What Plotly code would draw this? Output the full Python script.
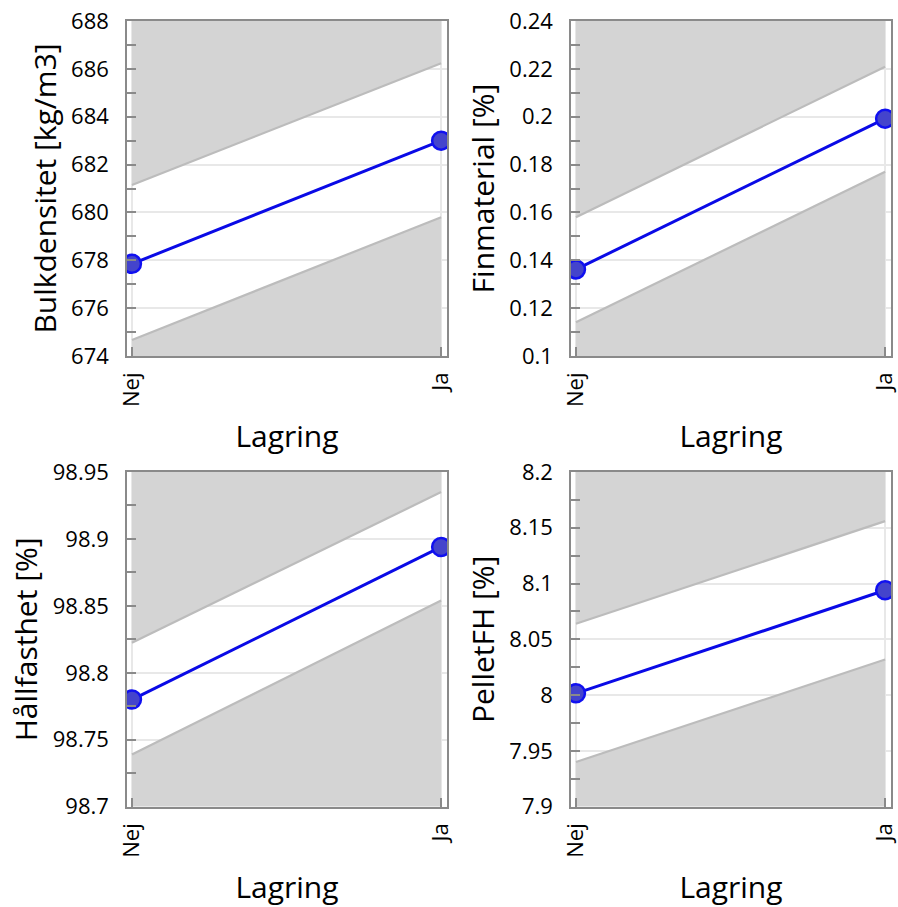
import plotly.graph_objects as go

# ---------------- data ----------------
categories = ["Nej", "Ja"]
x_title = "Lagring"

bulk_pred = [677.85, 683.0]
bulk_upper = [681.15, 686.23]
bulk_lower = [674.67, 679.8]

fin_pred = [0.1362, 0.1992]
fin_upper = [0.158, 0.2209]
fin_lower = [0.1141, 0.177]

hall_pred = [98.780, 98.894]
hall_upper = [98.8225, 98.935]
hall_lower = [98.739, 98.854]

pel_pred = [8.0016, 8.094]
pel_upper = [8.064, 8.156]
pel_lower = [7.940, 8.032]

y_titles = ["Bulkdensitet [kg/m3]", "Finmaterial [%]", "Hållfasthet [%]", "PelletFH [%]"]
y_ranges = [[674, 688], [0.1, 0.24], [98.7, 98.95], [7.9, 8.2]]

bulk_ticks = [674, 676, 678, 680, 682, 684, 686, 688]
bulk_labels = ["674", "676", "678", "680", "682", "684", "686", "688"]
fin_ticks = [0.1, 0.12, 0.14, 0.16, 0.18, 0.2, 0.22, 0.24]
fin_labels = ["0.1", "0.12", "0.14", "0.16", "0.18", "0.2", "0.22", "0.24"]
hall_ticks = [98.7, 98.75, 98.8, 98.85, 98.9, 98.95]
hall_labels = ["98.7", "98.75", "98.8", "98.85", "98.9", "98.95"]
pel_ticks = [7.9, 7.95, 8.0, 8.05, 8.1, 8.15, 8.2]
pel_labels = ["7.9", "7.95", "8", "8.05", "8.1", "8.15", "8.2"]
minor_steps = [1, 0.01, 0.025, 0.025]

# ---------------- styling ----------------
FONT = "Open Sans"
FILL = "#d4d4d4"
EDGE = "#bcbcbc"
FRAME = "#8a8a8a"
GRID = "#e8e8e8"
BLUE = "#0a0ae6"

W, H = 898, 907
x_domains = [[127 / W, 447 / W], [571 / W, 891 / W]]
y_domains = [[1 - 356 / H, 1 - 21 / H], [1 - 806.7 / H, 1 - 472 / H]]

panels = [
    (bulk_pred, bulk_upper, bulk_lower, bulk_ticks, bulk_labels),
    (fin_pred, fin_upper, fin_lower, fin_ticks, fin_labels),
    (hall_pred, hall_upper, hall_lower, hall_ticks, hall_labels),
    (pel_pred, pel_upper, pel_lower, pel_ticks, pel_labels),
]

fig = go.Figure()
layout = {}
for i, (pred, upper, lower, tv, tt) in enumerate(panels):
    n = i + 1
    xa = "x" if n == 1 else f"x{n}"
    ya = "y" if n == 1 else f"y{n}"
    r = y_ranges[i]
    common = dict(xaxis=xa, yaxis=ya, showlegend=False, hoverinfo="skip")
    # upper shaded region
    fig.add_trace(go.Scatter(x=categories, y=[r[1], r[1]], mode="lines",
                             line=dict(width=0, color=FILL), **common))
    fig.add_trace(go.Scatter(x=categories, y=upper, mode="lines", fill="tonexty",
                             fillcolor=FILL, line=dict(width=2.2, color=EDGE), **common))
    # lower shaded region
    fig.add_trace(go.Scatter(x=categories, y=[r[0], r[0]], mode="lines",
                             line=dict(width=0, color=FILL), **common))
    fig.add_trace(go.Scatter(x=categories, y=lower, mode="lines", fill="tonexty",
                             fillcolor=FILL, line=dict(width=2.2, color=EDGE), **common))
    # prediction
    fig.add_trace(go.Scatter(x=categories, y=pred, mode="lines+markers",
                             line=dict(width=3, color=BLUE),
                             marker=dict(size=18, color="#4444cc",
                                         line=dict(width=2.5, color="#1010f0")),
                             xaxis=xa, yaxis=ya, showlegend=False))

    col = i % 2
    row = i // 2
    xkey = "xaxis" if n == 1 else f"xaxis{n}"
    ykey = "yaxis" if n == 1 else f"yaxis{n}"
    layout[xkey] = dict(
        domain=x_domains[col], anchor=ya, type="category",
        range=[-0.016, 1.019], automargin=False,
        showline=True, linecolor=FRAME, linewidth=1.5, mirror=True,
        ticks="inside", ticklen=9, tickcolor=FRAME, tickwidth=1.5,
        tickangle=-90, tickfont=dict(family=FONT, size=22, color="black"),
        showgrid=True, gridcolor=GRID, gridwidth=2, zeroline=False,
        title=dict(text=x_title, font=dict(family=FONT, size=30, color="black"),
                   standoff=20),
        ticklabelstandoff=6,
    )
    layout[ykey] = dict(
        domain=y_domains[row], anchor=xa, range=r, automargin=False,
        tickmode="array", tickvals=tv, ticktext=tt,
        showline=True, linecolor=FRAME, linewidth=1.5, mirror=True,
        ticks="inside", ticklen=9, tickcolor=FRAME, tickwidth=1.5,
        tickfont=dict(family=FONT, size=22, color="black"),
        showgrid=True, gridcolor=GRID, gridwidth=2, zeroline=False,
        minor=dict(tick0=r[0], dtick=minor_steps[i], ticks="inside", ticklen=9,
                   tickcolor=FRAME, tickwidth=1.5, showgrid=False),
        title=dict(text=y_titles[i], font=dict(family=FONT, size=30, color="black"),
                   standoff=6),
        ticklabelstandoff=12,
    )

fig.update_layout(
    width=W, height=H,
    margin=dict(l=0, r=0, t=0, b=0),
    paper_bgcolor="white", plot_bgcolor="white",
    font=dict(family=FONT, color="black"),
    **layout,
)
fig.write_html("out.html")
